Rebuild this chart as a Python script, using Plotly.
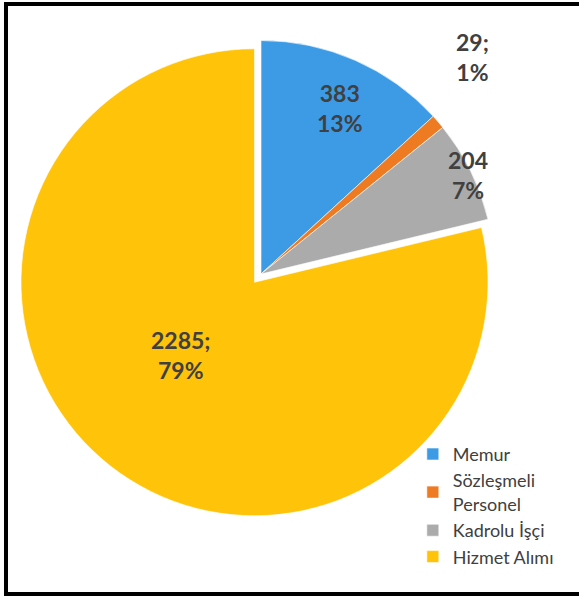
import plotly.graph_objects as go

# chart data
labels = ["Memur", "Sözleşmeli<br>Personel", "Kadrolu İşçi", "Hizmet Alımı"]
values = [383, 29, 204, 2285]
percents = ["13%", "1%", "7%", "79%"]
separators = ["", ";", "", ";"]

colors = ["#3D9BE6", "#EE7A22", "#ABABAB", "#FFC30A"]
text = [f"{v}{s}<br>{p}" for v, s, p in zip(values, separators, percents)]

# label anchor points (pixels from top-left) as placed in the original
label_pos = [(340, 108), (472, 57), (468, 175), (181, 355)]

W, H = 579, 597
cx, cy, R = 261, 274, 244

fig = go.Figure(go.Pie(
    labels=labels,
    values=values,
    textinfo="none",
    sort=False,
    direction="clockwise",
    rotation=0,
    pull=[0, 0, 0, 0.045],
    marker=dict(colors=colors, line=dict(color="rgba(255,255,255,0.6)", width=1)),
    domain=dict(x=[(cx - R) / W, (cx + R) / W],
                y=[(H - cy - R) / H, (H - cy + R) / H]),
    hoverinfo="label+value+percent",
))

for t, (px_, py_) in zip(text, label_pos):
    fig.add_annotation(
        x=px_ / W, y=1 - py_ / H, xref="paper", yref="paper",
        xanchor="center", yanchor="middle",
        text=t, showarrow=False,
        font=dict(family="Lato", size=23, color="#404040", weight="bold"),
    )

fig.update_layout(
    width=W, height=H,
    margin=dict(l=0, r=0, t=0, b=0),
    paper_bgcolor="white",
    plot_bgcolor="white",
    font=dict(family="Lato", color="#404040"),
    showlegend=True,
    legend=dict(
        x=0.713, y=0.27, xanchor="left", yanchor="top",
        font=dict(size=18, color="#404040"),
        bgcolor="rgba(255,255,255,0)",
        itemwidth=30,
    ),
    shapes=[dict(
        type="rect", xref="paper", yref="paper",
        x0=6 / W, x1=1.02, y0=3 / H, y1=1 - 4 / H,
        line=dict(color="black", width=4),
    )],
)

fig.write_html(
    "out.html",
    config={"displayModeBar": False},
    post_script="document.body.style.margin='0';document.body.style.overflow='hidden';",
)
